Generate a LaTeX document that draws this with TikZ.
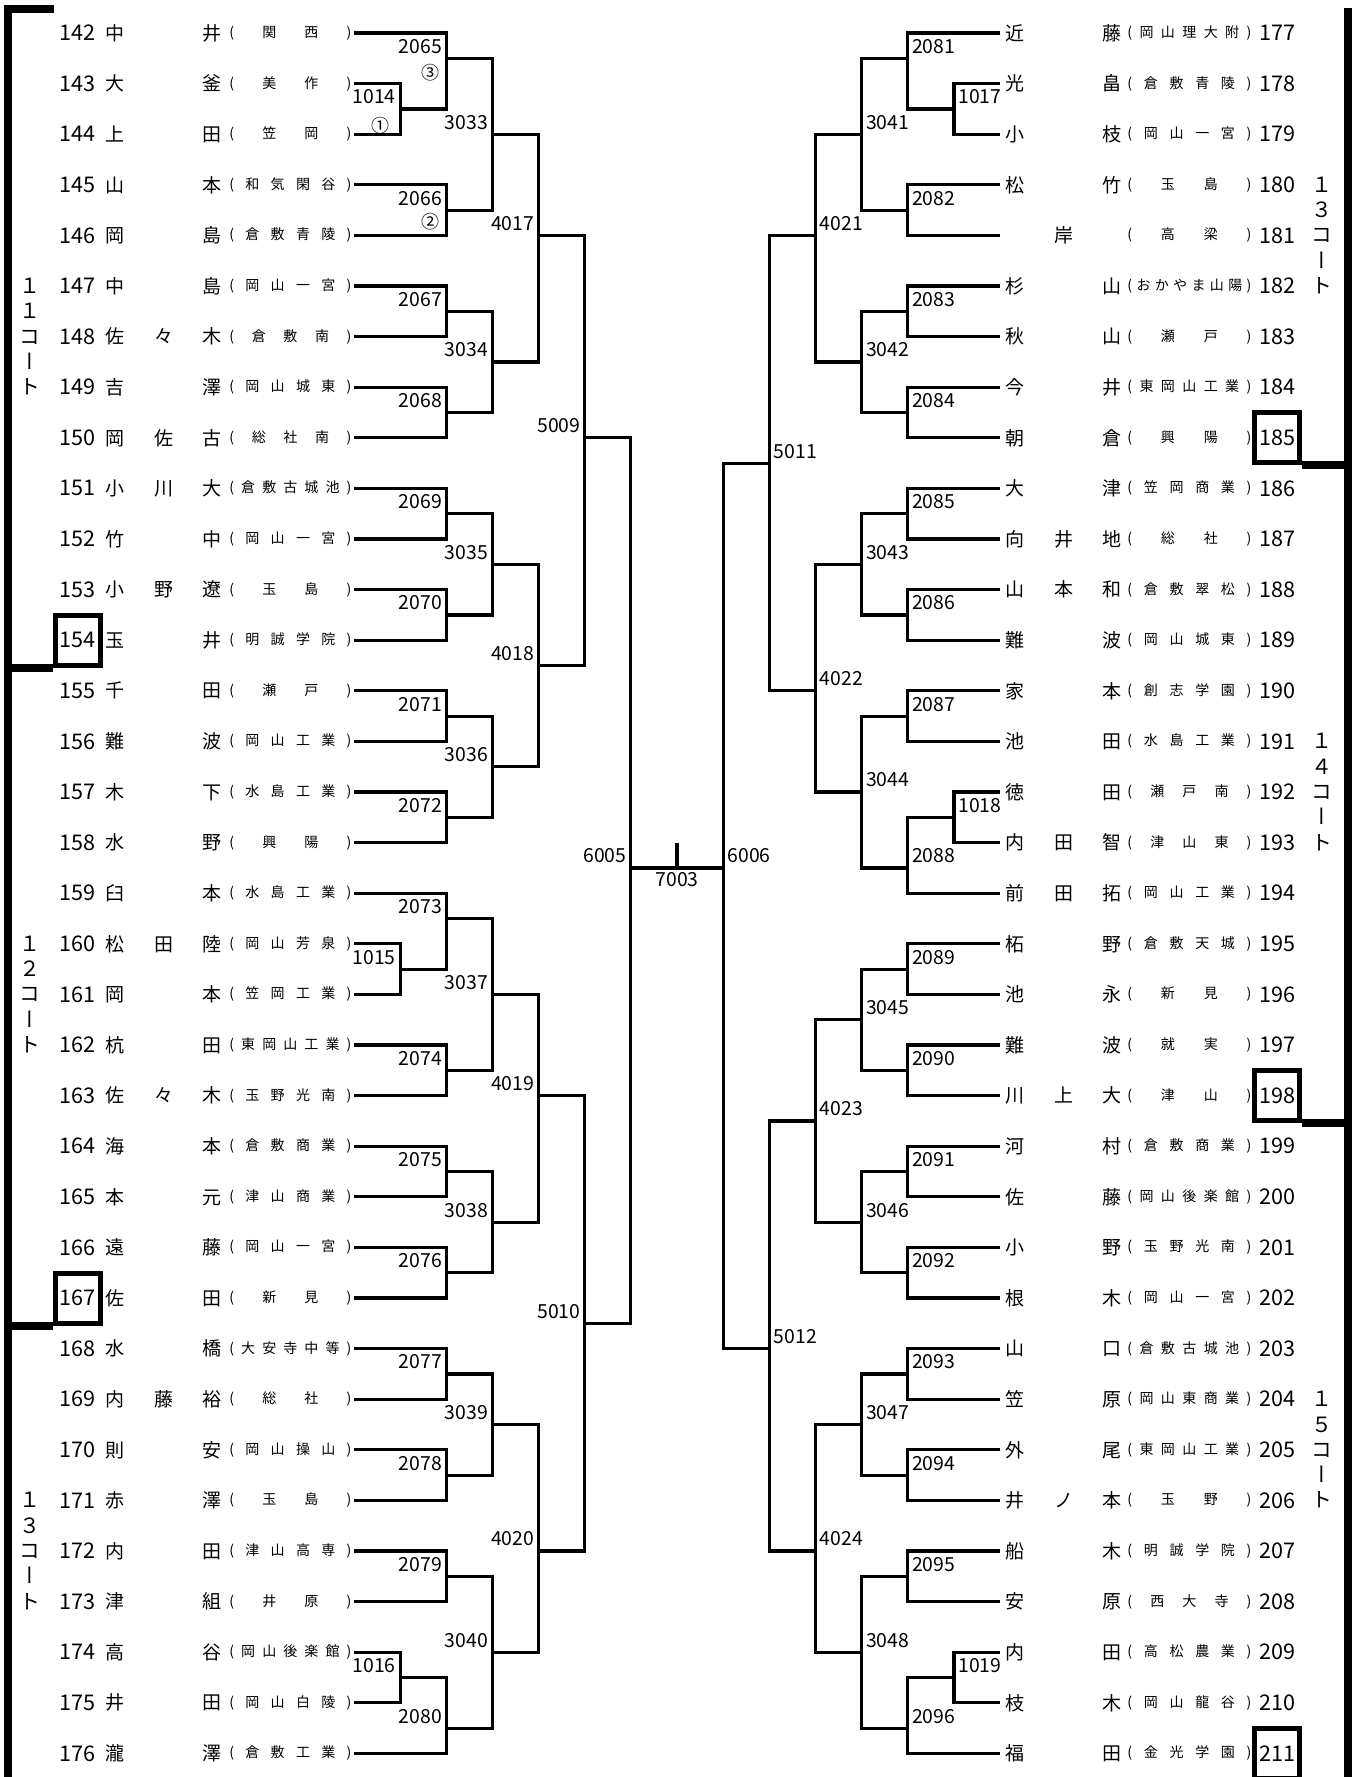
\documentclass[tikz,border=0pt]{standalone}
\usepackage{fontspec}
\setmainfont{Noto Sans CJK JP}
\newfontfamily\courtfont[RawFeature=+vert]{Noto Sans CJK JP}
\usetikzlibrary{positioning}

\newlength\namew \setlength\namew{58pt}
\newlength\schw  \setlength\schw{61pt}
% spread a name over its three slots
\def\snA#1#2{#1\ifx\relax#2\else\hfill\expandafter\snA\expandafter#2\fi}
\newcommand{\pname}[1]{\makebox[\namew][s]{\expandafter\snA#1\relax}}
% spread a school between its brackets
\def\scA#1{\ifx\relax#1\else\hfill#1\expandafter\scA\fi}
\newcommand{\school}[1]{\makebox[\schw][s]{(\expandafter\scA#1\relax\hfill)}}

\tikzstyle{pnum} = [inner sep=0pt, font=\fontsize{10.8}{12}\selectfont]
\tikzstyle{pname} = [anchor=west, inner sep=0pt, font=\fontsize{9.5}{11}\selectfont]
\tikzstyle{pschool} = [anchor=west, inner sep=0pt, font=\fontsize{7}{8}\selectfont]
\tikzstyle{mlabel} = [inner xsep=2pt, inner ysep=2.2pt, font=\fontsize{9.7}{11}\selectfont]
\tikzstyle{circlabel} = [inner sep=0pt, font=\fontsize{9}{10}\selectfont]
\tikzstyle{tedge} = [draw, line width=1.6pt]
\tikzstyle{courtbar} = [draw, line width=4pt]
\tikzstyle{seedbox} = [draw, line width=2.5pt, minimum width=22.5pt, minimum height=25pt]
\tikzstyle{courtlabel} = [align=center, inner sep=0pt, font=\courtfont\fontsize{10.5}{12.65}\selectfont]

\newcommand{\lmatch}[5]{%
  \coordinate (m#1) at (#4,#5);
  \path[tedge] (#2) -| (m#1) |- (#3);
  \node[mlabel, anchor=south east] (l#1) at (m#1) {#1};}
\newcommand{\rmatch}[5]{%
  \coordinate (m#1) at (#4,#5);
  \path[tedge] (#2) -| (m#1) |- (#3);
  \node[mlabel, anchor=south west] (l#1) at (m#1) {#1};}

\begin{document}
\begin{tikzpicture}[x=0.5pt, y=-25.3pt]
\useasboundingbox (0,-0.6522) rectangle (1352,34.4664);

% players =============================

% left half
\foreach \n/\nm/\sch [count=\i from 0] in {142/中井/関西, 143/大釜/美作, 144/上田/笠岡,
  145/山本/和気閑谷, 146/岡島/倉敷青陵, 147/中島/岡山一宮, 148/佐々木/倉敷南,
  149/吉澤/岡山城東, 150/岡佐古/総社南, 151/小川大/倉敷古城池, 152/竹中/岡山一宮,
  153/小野遼/玉島, 154/玉井/明誠学院, 155/千田/瀬戸, 156/難波/岡山工業,
  157/木下/水島工業, 158/水野/興陽, 159/臼本/水島工業, 160/松田陸/岡山芳泉,
  161/岡本/笠岡工業, 162/杭田/東岡山工業, 163/佐々木/玉野光南, 164/海本/倉敷商業,
  165/本元/津山商業, 166/遠藤/岡山一宮, 167/佐田/新見, 168/水橋/大安寺中等,
  169/内藤裕/総社, 170/則安/岡山操山, 171/赤澤/玉島, 172/内田/津山高専,
  173/津組/井原, 174/高谷/岡山後楽館, 175/井田/岡山白陵, 176/瀧澤/倉敷工業}{
  \node[pnum] (n\n) at (77.5,\i) {\n};
  \node[pname] (a\n) at (105.5,\i) {\pname{\nm}};
  \node[pschool] (s\n) at (229,\i) {\school{\sch}};
  \coordinate (p\n) at (354,\i);
}

% right half
\setlength\schw{62pt}
\foreach \n/\nm/\sch [count=\i from 0] in {177/近藤/岡山理大附, 178/光畠/倉敷青陵,
  179/小枝/岡山一宮, 180/松竹/玉島, 181/\hfil 岸\hfil/高梁, 182/杉山/おかやま山陽,
  183/秋山/瀬戸, 184/今井/東岡山工業, 185/朝倉/興陽, 186/大津/笠岡商業,
  187/向井地/総社, 188/山本和/倉敷翠松, 189/難波/岡山城東, 190/家本/創志学園,
  191/池田/水島工業, 192/徳田/瀬戸南, 193/内田智/津山東, 194/前田拓/岡山工業,
  195/柘野/倉敷天城, 196/池永/新見, 197/難波/就実, 198/川上大/津山,
  199/河村/倉敷商業, 200/佐藤/岡山後楽館, 201/小野/玉野光南, 202/根木/岡山一宮,
  203/山口/倉敷古城池, 204/笠原/岡山東商業, 205/外尾/東岡山工業, 206/井ノ本/玉野,
  207/船木/明誠学院, 208/安原/西大寺, 209/内田/高松農業, 210/枝木/岡山龍谷,
  211/福田/金光学園}{
  \node[pnum] (n\n) at (1277,\i) {\n};
  \node[pname] (a\n) at (1005.5,\i) {\pname{\nm}};
  \node[pschool] (s\n) at (1127,\i) {\school{\sch}};
  \coordinate (p\n) at (1000,\i);
}

% seeds
\node[seedbox] (b154) at (n154) {};
\node[seedbox] (b167) at (n167) {};
\node[seedbox] (b185) at (n185) {};
\node[seedbox] (b198) at (n198) {};
\node[seedbox] (b211) at (n211) {};

% left bracket =============================
\foreach \m/\a/\b/\y in {1014/p143/p144/1.5, 1015/p160/p161/18.5, 1016/p174/p175/32.5}
  {\lmatch{\m}{\a}{\b}{400.1}{\y}}
\foreach \m/\a/\b/\y in {2065/p142/m1014/0.5, 2066/p145/p146/3.5, 2067/p147/p148/5.5,
  2068/p149/p150/7.5, 2069/p151/p152/9.5, 2070/p153/p154/11.5, 2071/p155/p156/13.5,
  2072/p157/p158/15.5, 2073/p159/m1015/17.5, 2074/p162/p163/20.5, 2075/p164/p165/22.5,
  2076/p166/p167/24.5, 2077/p168/p169/26.5, 2078/p170/p171/28.5, 2079/p172/p173/30.5,
  2080/m1016/p176/33.5}
  {\lmatch{\m}{\a}{\b}{446.25}{\y}}
\foreach \m/\a/\b/\y in {3033/m2065/m2066/2, 3034/m2067/m2068/6.5, 3035/m2069/m2070/10.5,
  3036/m2071/m2072/14.5, 3037/m2073/m2074/19, 3038/m2075/m2076/23.5,
  3039/m2077/m2078/27.5, 3040/m2079/m2080/32}
  {\lmatch{\m}{\a}{\b}{492.4}{\y}}
\foreach \m/\a/\b/\y in {4017/m3033/m3034/4, 4018/m3035/m3036/12.5,
  4019/m3037/m3038/21, 4020/m3039/m3040/30}
  {\lmatch{\m}{\a}{\b}{538.55}{\y}}
\lmatch{5009}{m4017}{m4018}{584.7}{8}
\lmatch{5010}{m4019}{m4020}{584.7}{25.5}
\lmatch{6005}{m5009}{m5010}{630.85}{16.5}

\node[circlabel] at ([xshift=-8pt,yshift=-7pt]m2065) {③};
\node[circlabel] at ([xshift=-10pt,yshift=-8.5pt]m1014) {①};
\node[circlabel] at ([xshift=-8pt,yshift=-6pt]m2066) {②};

% right bracket =============================
\foreach \m/\a/\b/\y in {1017/p178/p179/1.5, 1018/p192/p193/15.5, 1019/p209/p210/32.5}
  {\rmatch{\m}{\a}{\b}{953.9}{\y}}
\foreach \m/\a/\b/\y in {2081/p177/m1017/0.5, 2082/p180/p181/3.5, 2083/p182/p183/5.5,
  2084/p184/p185/7.5, 2085/p186/p187/9.5, 2086/p188/p189/11.5, 2087/p190/p191/13.5,
  2088/m1018/p194/16.5, 2089/p195/p196/18.5, 2090/p197/p198/20.5, 2091/p199/p200/22.5,
  2092/p201/p202/24.5, 2093/p203/p204/26.5, 2094/p205/p206/28.5, 2095/p207/p208/30.5,
  2096/m1019/p211/33.5}
  {\rmatch{\m}{\a}{\b}{907.75}{\y}}
\foreach \m/\a/\b/\y in {3041/m2081/m2082/2, 3042/m2083/m2084/6.5, 3043/m2085/m2086/10.5,
  3044/m2087/m2088/15, 3045/m2089/m2090/19.5, 3046/m2091/m2092/23.5,
  3047/m2093/m2094/27.5, 3048/m2095/m2096/32}
  {\rmatch{\m}{\a}{\b}{861.6}{\y}}
\foreach \m/\a/\b/\y in {4021/m3041/m3042/4, 4022/m3043/m3044/13,
  4023/m3045/m3046/21.5, 4024/m3047/m3048/30}
  {\rmatch{\m}{\a}{\b}{815.45}{\y}}
\rmatch{5011}{m4021}{m4022}{769.3}{8.5}
\rmatch{5012}{m4023}{m4024}{769.3}{26}
\rmatch{6006}{m5011}{m5012}{723.15}{16.5}

% final
\coordinate (f7003) at (677,16.5);
\coordinate (t7003) at (677,16);
\path[tedge] (m6005) -- (m6006);
\path[tedge] (t7003) -- (f7003);
\node[mlabel, anchor=north] (l7003) at (f7003) {7003};

% courts =============================
\coordinate (ltop) at (54,-0.474);
\coordinate (lcorner) at (8,-0.474);
\coordinate (lbot) at (8,34.6);
\path[courtbar] (ltop) -- (lcorner) -- (lbot);
\path[courtbar] (b154.south west) -- (b154.south west -| lbot);
\path[courtbar] (b167.south west) -- (b167.south west -| lbot);

\coordinate (rtop) at (1347.5,-0.49);
\coordinate (rbot) at (1347.5,34.6);
\path[courtbar] (rtop) -- (rbot);
\path[courtbar] (b185.south east) -- (b185.south east -| rbot);
\path[courtbar] (b198.south east) -- (b198.south east -| rbot);
\path[courtbar] (b211.south east) -- (b211.south east -| rbot);

\node[courtlabel] (c11) at (30,6) {１\\１\\コ\\ー\\ト};
\node[courtlabel] (c12) at (30,19) {１\\２\\コ\\ー\\ト};
\node[courtlabel] (c13l) at (30,30) {１\\３\\コ\\ー\\ト};
\node[courtlabel] (c13r) at (1322,4) {１\\３\\コ\\ー\\ト};
\node[courtlabel] (c14) at (1322,15) {１\\４\\コ\\ー\\ト};
\node[courtlabel] (c15) at (1322,28) {１\\５\\コ\\ー\\ト};

\end{tikzpicture}
\end{document}
